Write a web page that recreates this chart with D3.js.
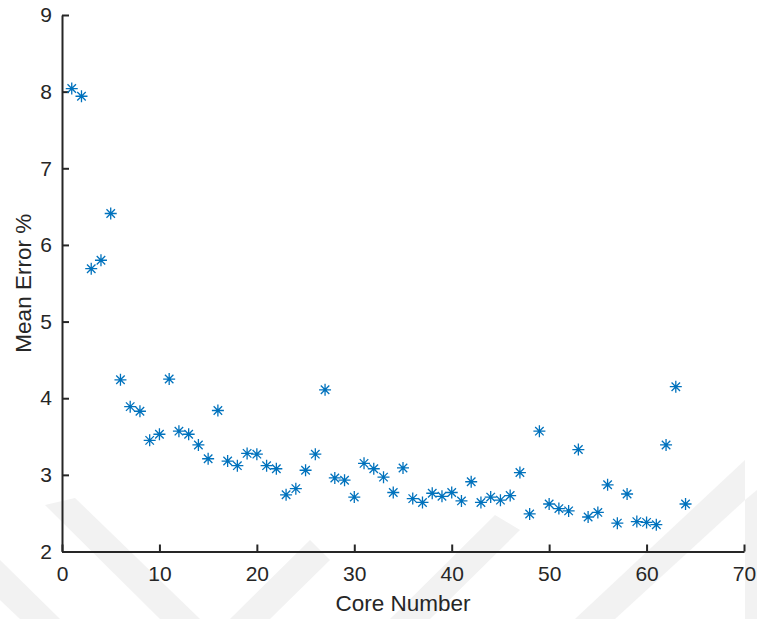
<!DOCTYPE html>
<html>
<head>
<meta charset="utf-8">
<script src="https://cdn.jsdelivr.net/npm/d3@7"></script>
<style>
  body { margin: 0; background: #fff; }
  svg { display: block; }
</style>
</head>
<body>
<div id="chart"></div>
<script>
// core numbers 1..64 and mean error
const cores = [
   1,  2,  3,  4,  5,  6,  7,  8,  9, 10, 11, 12, 13, 14, 15, 16,
  17, 18, 19, 20, 21, 22, 23, 24, 25, 26, 27, 28, 29, 30, 31, 32,
  33, 34, 35, 36, 37, 38, 39, 40, 41, 42, 43, 44, 45, 46, 47, 48,
  49, 50, 51, 52, 53, 54, 55, 56, 57, 58, 59, 60, 61, 62, 63, 64
];
const meanError = [
  8.04, 7.94, 5.69, 5.80, 6.41, 4.24, 3.89, 3.83, 3.45, 3.53, 4.25, 3.57, 3.53, 3.39, 3.21, 3.84,
  3.18, 3.12, 3.28, 3.27, 3.12, 3.08, 2.74, 2.82, 3.06, 3.27, 4.11, 2.96, 2.93, 2.71, 3.15, 3.08,
  2.97, 2.77, 3.09, 2.69, 2.64, 2.76, 2.72, 2.77, 2.66, 2.91, 2.64, 2.71, 2.67, 2.73, 3.03, 2.49,
  3.57, 2.62, 2.56, 2.53, 3.33, 2.45, 2.51, 2.87, 2.37, 2.75, 2.39, 2.38, 2.35, 3.39, 4.15, 2.62
];
const xTicks = [0, 10, 20, 30, 40, 50, 60, 70];
const yTicks = [2, 3, 4, 5, 6, 7, 8, 9];

const width = 757, height = 619;
const margin = {top: 15, right: 13, bottom: 67.5, left: 62};
const innerW = width - margin.left - margin.right;
const innerH = height - margin.top - margin.bottom;
const axisColor = "#262626";
const markColor = "#0072BD";
const font = '"Liberation Sans", Arial, Helvetica, sans-serif';

const svg = d3.select("#chart").append("svg")
    .attr("width", width)
    .attr("height", height);

// faint watermark bands behind the plot
const bands = svg.append("g").attr("fill", "#f2f2f2");
[
  [[0, 560], [0, 600], [20, 619], [60, 619]],
  [[45, 505], [75, 498], [200, 619], [160, 619]],
  [[230, 619], [270, 619], [330, 560], [310, 540]],
  [[390, 619], [430, 619], [520, 530], [495, 515]],
  [[575, 619], [615, 619], [745, 500], [745, 460]],
  [[745, 500], [757, 490], [757, 619], [745, 619]]
].forEach(p => bands.append("polygon").attr("points", p.map(q => q.join(",")).join(" ")));

const g = svg.append("g")
    .attr("transform", `translate(${margin.left},${margin.top})`);

const x = d3.scaleLinear().domain([0, 70]).range([0, innerW]);
const y = d3.scaleLinear().domain([2, 9]).range([innerH, 0]);

// axes, ticks pointing inward like matlab
const xAxis = g.append("g")
    .attr("transform", `translate(0,${innerH})`)
    .call(d3.axisBottom(x).tickValues(xTicks).tickFormat(d3.format("d"))
        .tickSizeInner(-7).tickSizeOuter(0).tickPadding(15));
const yAxis = g.append("g")
    .call(d3.axisLeft(y).tickValues(yTicks).tickFormat(d3.format("d"))
        .tickSizeInner(-7).tickSizeOuter(0).tickPadding(10));

[xAxis, yAxis].forEach(a => {
  a.select(".domain").attr("stroke", axisColor).attr("stroke-width", 2);
  a.selectAll(".tick line").attr("stroke", axisColor).attr("stroke-width", 2);
  a.selectAll(".tick text")
      .attr("fill", axisColor)
      .attr("font-size", 21)
      .style("font-family", font);
});

// asterisk markers
const r = 6, d = r * Math.SQRT1_2;
const star = `M${-r},0H${r}M0,${-r}V${r}M${-d},${-d}L${d},${d}M${-d},${d}L${d},${-d}`;

g.append("g").selectAll("path")
    .data(cores.map((c, i) => ({core: c, err: meanError[i]})))
    .join("path")
    .attr("transform", p => `translate(${x(p.core)},${y(p.err)})`)
    .attr("d", star)
    .attr("fill", "none")
    .attr("stroke", markColor)
    .attr("stroke-width", 1.3);

// axis labels
svg.append("text")
    .attr("x", margin.left + innerW / 2)
    .attr("y", 611)
    .attr("text-anchor", "middle")
    .attr("font-family", font)
    .attr("font-size", 22.5)
    .attr("fill", axisColor)
    .text("Core Number");

svg.append("text")
    .attr("transform", `translate(30.5,${margin.top + innerH / 2}) rotate(-90)`)
    .attr("text-anchor", "middle")
    .attr("font-family", font)
    .attr("font-size", 22.5)
    .attr("fill", axisColor)
    .text("Mean Error %");
</script>
</body>
</html>
